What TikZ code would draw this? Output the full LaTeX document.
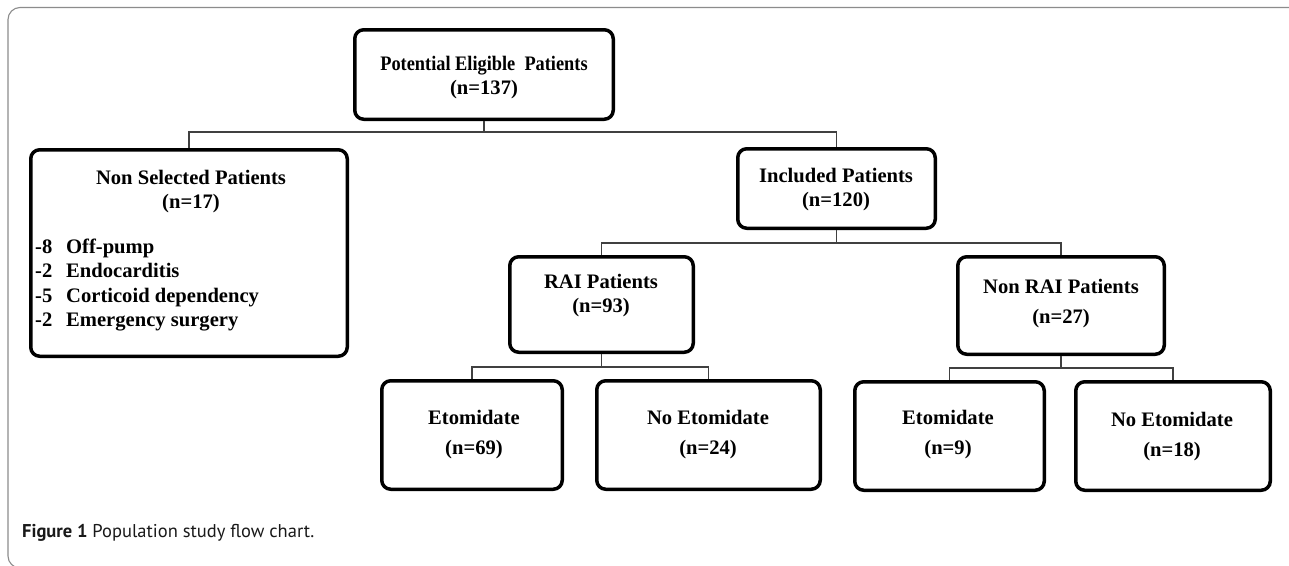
\documentclass[tikz,border=0pt]{standalone}
\usepackage{fontspec}
\setmainfont{Liberation Serif}
\newfontfamily\capfont{PT Sans}
\usepackage{graphicx}
\tikzset{
  box/.style={draw=black, line width=3.5pt, rounded corners=9pt, fill=white, inner sep=0pt},
  conn/.style={draw=black!75, line width=1.3pt},
  txt/.style={font=\bfseries\fontsize{20.6}{24}\selectfont, align=center, inner sep=0pt},
  txtw/.style={font=\bfseries\fontsize{20.6}{30}\selectfont, align=center, inner sep=0pt},
  listtxt/.style={font=\bfseries\fontsize{20.6}{24.4}\selectfont, align=left, inner sep=0pt, anchor=west},
  framec/.style={draw=black!45, line width=1.1pt, rounded corners=12pt}
}
\begin{document}
\begin{tikzpicture}[x=1pt,y=-1pt]
\clip (0,0) rectangle (1289,565);
\fill[white] (0,0) rectangle (1289,565);
% outer frame
\draw[framec] (1300,7.5) -- (8,7.5) -- (8,568) -- (40,568);
% boxes
\node[box, minimum width=258.5pt, minimum height=89.5pt] (top) at (484,74.5) {};
\node[box, minimum width=316.5pt, minimum height=206.5pt] (nonsel) at (189,253) {};
\node[box, minimum width=197.5pt, minimum height=79.5pt] (incl) at (836.5,188.5) {};
\node[box, minimum width=183.5pt, minimum height=95.5pt] (rai) at (601.5,304.5) {};
\node[box, minimum width=206.5pt, minimum height=97.5pt] (nonrai) at (1061,305.5) {};
\node[box, minimum width=180.5pt, minimum height=108.5pt] (eto1) at (472,435) {};
\node[box, minimum width=223.5pt, minimum height=108.5pt] (noeto1) at (708.5,435) {};
\node[box, minimum width=189.5pt, minimum height=108.5pt] (eto2) at (949.5,436) {};
\node[box, minimum width=194.5pt, minimum height=108.5pt] (noeto2) at (1173,436) {};
% texts
\node[txt] (topT) at (484,78) {\scalebox{0.89}[1]{Potential Eligible\ \ Patients}\\(n=137)};
\node[txt] (nonselT) at (191,192) {Non Selected Patients\\(n=17)};
\node[listtxt] (nonselL) at (35,285) {\makebox[31pt][l]{-8}Off-pump\\\makebox[31pt][l]{-2}Endocarditis\\\makebox[31pt][l]{-5}Corticoid dependency\\\makebox[31pt][l]{-2}Emergency surgery};
\node[txt] (inclT) at (836,190) {Included Patients\\(n=120)};
\node[txt] (raiT) at (601,296) {RAI Patients\\(n=93)};
\node[txtw] (nonraiT) at (1061,304) {Non RAI Patients\\(n=27)};
\node[txtw] (eto1T) at (474,434.5) {Etomidate\\(n=69)};
\node[txtw] (noeto1T) at (708,434.5) {No Etomidate\\(n=24)};
\node[txtw] (eto2T) at (948,434.5) {Etomidate\\(n=9)};
\node[txtw] (noeto2T) at (1172,437) {No Etomidate\\(n=18)};
% connectors
\coordinate (j1) at (484,132);
\coordinate (j2) at (836.5,243);
\coordinate (j3) at (601.5,367);
\coordinate (j4) at (1061,368);
\draw[conn] (top.south) -- (j1);
\draw[conn] (j1) -| (nonsel.north);
\draw[conn] (j1) -| (incl.north);
\draw[conn] (incl.south) -- (j2);
\draw[conn] (j2) -| (rai.north);
\draw[conn] (j2) -| (nonrai.north);
\draw[conn] (rai.south) -- (j3);
\draw[conn] (j3) -| (eto1.north);
\draw[conn] (j3) -| (noeto1.north);
\draw[conn] (nonrai.south) -- (j4);
\draw[conn] (j4) -| (eto2.north);
\draw[conn] (j4) -| (noeto2.north);
% caption
\node[anchor=west, inner sep=0pt, font=\capfont\fontsize{18.5}{21}\selectfont, text=black!90] (cap) at (22,533) {\textbf{Figure 1} Population study flow chart.};
\end{tikzpicture}
\end{document}
